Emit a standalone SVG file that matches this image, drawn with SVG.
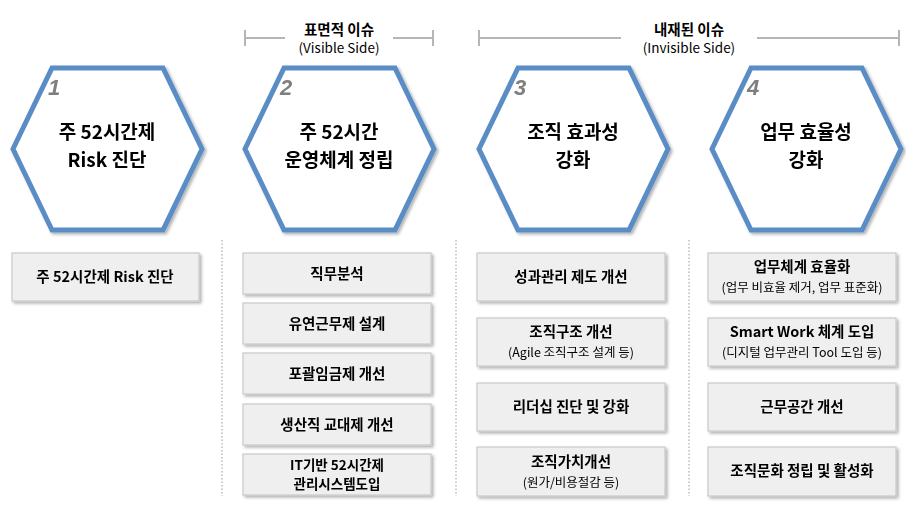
<svg xmlns="http://www.w3.org/2000/svg" width="906" height="505" viewBox="0 0 906 505">
<style>
text{font-family:"Noto Sans CJK KR","Noto Sans",sans-serif;fill:#000;text-anchor:middle}
.hex{fill:#fff;stroke:#5a8dc5;stroke-width:5;stroke-linejoin:miter}
.num{font-family:"Liberation Sans",sans-serif;font-style:italic;font-weight:bold;font-size:22px;fill:#7f7f7f;text-anchor:start}
.ht{font-size:19px;font-weight:bold}
.box{fill:#efefef;stroke:#c9c9c9;stroke-width:1.2}
.bt{font-size:14.5px;font-weight:bold}
.bt2{font-size:13.5px;font-weight:bold}
.st{font-size:12.5px}
.sep{stroke:#999;stroke-width:1;stroke-dasharray:1.5 2}
.br{stroke:#b5b5b5;stroke-width:2;fill:none}
</style>
<defs><filter id="sh" x="-10%" y="-10%" width="130%" height="130%"><feDropShadow dx="2" dy="2" stdDeviation="1.5" flood-opacity="0.3"/></filter></defs>
<g id="bracket-visible">
<path class="br" d="M245 30v16M433 30v16M245 38h40M393 38h40"/>
<text x="339" y="35" class="bt">표면적 이슈</text>
<text x="339" y="53" style="font-size:13.5px">(Visible Side)</text>
</g>
<g id="bracket-invisible">
<path class="br" d="M479 30v16M899 30v16M479 38h142M757 38h142"/>
<text x="689" y="35" class="bt">내재된 이슈</text>
<text x="689" y="53" style="font-size:13.5px">(Invisible Side)</text>
</g>
<g id="hex1" filter="url(#sh)"><polygon class="hex" points="52,68 163,68 202,149 163,230 52,230 13,149"/><text class="num" x="48" y="95">1</text><text class="ht" x="107" y="139">주 52시간제</text><text class="ht" x="107" y="167">Risk 진단</text></g>
<g id="hex2" filter="url(#sh)"><polygon class="hex" points="284,68 395,68 434,149 395,230 284,230 245,149"/><text class="num" x="280" y="95">2</text><text class="ht" x="339" y="139">주 52시간</text><text class="ht" x="339" y="167">운영체계 정립</text></g>
<g id="hex3" filter="url(#sh)"><polygon class="hex" points="518,68 629,68 668,149 629,230 518,230 479,149"/><text class="num" x="514" y="95">3</text><text class="ht" x="573" y="139">조직 효과성</text><text class="ht" x="573" y="167">강화</text></g>
<g id="hex4" filter="url(#sh)"><polygon class="hex" points="751,68 862,68 901,149 862,230 751,230 712,149"/><text class="num" x="747" y="95">4</text><text class="ht" x="806" y="139">업무 효율성</text><text class="ht" x="806" y="167">강화</text></g>
<g id="connectors">
<line class="sep" x1="222" y1="240" x2="222" y2="496"/>
<line class="sep" x1="456" y1="240" x2="456" y2="496"/>
<line class="sep" x1="689" y1="240" x2="689" y2="496"/>
</g>
<g id="c1-1" filter="url(#sh)"><rect class="box" x="12" y="253" width="187" height="48"/><text class="bt" x="105" y="282">주 52시간제 Risk 진단</text></g>
<g id="c2-1" filter="url(#sh)"><rect class="box" x="243" y="253" width="188" height="41"/><text class="bt" x="337" y="279">직무분석</text></g>
<g id="c2-2" filter="url(#sh)"><rect class="box" x="243" y="303" width="188" height="41"/><text class="bt" x="337" y="329">유연근무제 설계</text></g>
<g id="c2-3" filter="url(#sh)"><rect class="box" x="243" y="353" width="188" height="41"/><text class="bt" x="337" y="379">포괄임금제 개선</text></g>
<g id="c2-4" filter="url(#sh)"><rect class="box" x="243" y="404" width="188" height="41"/><text class="bt" x="337" y="430">생산직 교대제 개선</text></g>
<g id="c2-5" filter="url(#sh)"><rect class="box" x="243" y="454" width="188" height="41"/><text class="bt2" x="337" y="470">IT기반 52시간제</text><text class="bt2" x="337" y="489">관리시스템도입</text></g>
<g id="c3-1" filter="url(#sh)"><rect class="box" x="477" y="253" width="188" height="48"/><text class="bt" x="571" y="282">성과관리 제도 개선</text></g>
<g id="c3-2" filter="url(#sh)"><rect class="box" x="477" y="318" width="188" height="48"/><text class="bt" x="571" y="337">조직구조 개선</text><text class="st" x="571" y="357">(Agile 조직구조 설계 등)</text></g>
<g id="c3-3" filter="url(#sh)"><rect class="box" x="477" y="383" width="188" height="48"/><text class="bt" x="571" y="412">리더십 진단 및 강화</text></g>
<g id="c3-4" filter="url(#sh)"><rect class="box" x="477" y="447" width="188" height="49"/><text class="bt" x="571" y="467">조직가치개선</text><text class="st" x="571" y="487">(원가/비용절감 등)</text></g>
<g id="c4-1" filter="url(#sh)"><rect class="box" x="708" y="253" width="188" height="48"/><text class="bt" x="802" y="272">업무체계 효율화</text><text class="st" x="802" y="292">(업무 비효율 제거, 업무 표준화)</text></g>
<g id="c4-2" filter="url(#sh)"><rect class="box" x="708" y="318" width="188" height="48"/><text class="bt" x="802" y="337">Smart Work 체계 도입</text><text class="st" x="802" y="357">(디지털 업무관리 Tool 도입 등)</text></g>
<g id="c4-3" filter="url(#sh)"><rect class="box" x="708" y="383" width="188" height="48"/><text class="bt" x="802" y="412">근무공간 개선</text></g>
<g id="c4-4" filter="url(#sh)"><rect class="box" x="708" y="447" width="188" height="49"/><text class="bt" x="802" y="476">조직문화 정립 및 활성화</text></g>
</svg>
